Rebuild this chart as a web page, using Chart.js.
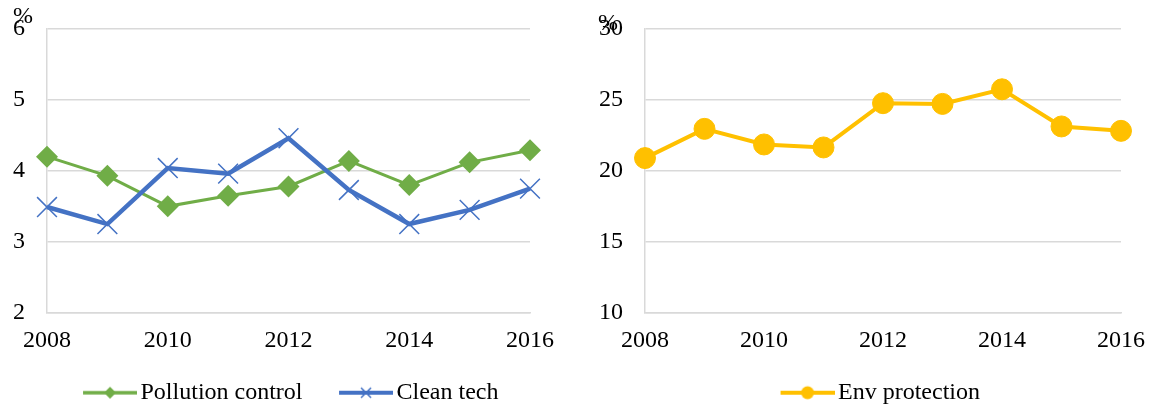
<!DOCTYPE html>
<html lang="en">
<head>
    <meta charset="UTF-8" />
    <title>Pollution control, clean tech and env protection</title>
    <style>
        body { margin: 0; background: #fff; overflow: hidden; }
        #wrap { position: relative; width: 1150px; height: 405px; overflow: hidden; }
        canvas { position: absolute; top: 0; }
    </style>
</head>
<body>
    <div id="wrap">
        <canvas id="leftChart" width="577" height="405" style="left: 0;"></canvas>
        <canvas id="rightChart" width="590" height="405" style="left: 583px;"></canvas>
    </div>

    <script src="https://cdn.jsdelivr.net/npm/chart.js@4.4.0/dist/chart.umd.min.js"></script>
    <script>
        // data
        const years = ['2008', '2009', '2010', '2011', '2012', '2013', '2014', '2015', '2016'];
        const xTickLabels = ['2008', '2010', '2012', '2014', '2016'];
        const pollutionControl = [4.20, 3.93, 3.50, 3.65, 3.78, 4.14, 3.80, 4.12, 4.29];
        const cleanTech = [3.49, 3.25, 4.04, 3.96, 4.46, 3.73, 3.25, 3.45, 3.75];
        const envProtection = [20.9, 22.96, 21.86, 21.65, 24.77, 24.72, 25.75, 23.13, 22.82];
        const leftTicks = [2, 3, 4, 5, 6];
        const rightTicks = [10, 15, 20, 25, 30];

        const GREEN = '#70ad47';
        const BLUE = '#4472c4';
        const YELLOW = '#ffc000';
        const GRID = '#d9d9d9';
        const FONT = '"Liberation Serif", "Times New Roman", serif';

        Chart.defaults.font.family = FONT;
        Chart.defaults.font.size = 24;
        Chart.defaults.color = '#000';

        // legend swatch: short line with a small marker, drawn at the right of the image
        function makeSwatch(color, marker, lineWidth) {
            const c = document.createElement('canvas');
            c.width = 67;
            c.height = 16;
            const ctx = c.getContext('2d');
            const x0 = 13, cx = 40;
            ctx.strokeStyle = color;
            ctx.fillStyle = color;
            ctx.lineWidth = lineWidth;
            ctx.beginPath();
            ctx.moveTo(x0, 8);
            ctx.lineTo(67, 8);
            ctx.stroke();
            ctx.beginPath();
            if (marker === 'diamond') {
                ctx.moveTo(cx, 2); ctx.lineTo(cx + 6, 8); ctx.lineTo(cx, 14); ctx.lineTo(cx - 6, 8);
                ctx.closePath();
                ctx.fill();
            } else if (marker === 'cross') {
                ctx.lineWidth = 1.5;
                ctx.moveTo(cx - 5, 3); ctx.lineTo(cx + 5, 13);
                ctx.moveTo(cx + 5, 3); ctx.lineTo(cx - 5, 13);
                ctx.stroke();
            } else {
                ctx.arc(cx, 8, 6.5, 0, Math.PI * 2);
                ctx.fill();
            }
            return c;
        }

        // the "%" unit label above the value axis
        const percentLabel = {
            id: 'percentLabel',
            afterDraw(chart, args, opts) {
                const { ctx, chartArea } = chart;
                ctx.save();
                ctx.font = '24px ' + FONT;
                ctx.fillStyle = '#000';
                ctx.textAlign = 'left';
                ctx.textBaseline = 'middle';
                ctx.fillText('%', chartArea.left - opts.dx, opts.y);
                ctx.restore();
            }
        };

        function legendOptions(swatches) {
            return {
                position: 'bottom',
                labels: {
                    usePointStyle: true,
                    pointStyleWidth: 50,
                    padding: 32,
                    color: '#000',
                    font: { size: 24 },
                    generateLabels(chart) {
                        const items = Chart.defaults.plugins.legend.labels.generateLabels(chart);
                        items.sort((a, b) => a.datasetIndex - b.datasetIndex);
                        items.forEach(it => { it.pointStyle = swatches[it.datasetIndex]; });
                        return items;
                    }
                }
            };
        }

        function xScale() {
            return {
                grid: { color: 'rgba(0,0,0,0)', drawTicks: false },
                border: { color: GRID, width: 1.5 },
                ticks: {
                    autoSkip: false,
                    maxRotation: 0,
                    padding: 14,
                    callback: function (v) {
                        const l = this.getLabelForValue(v);
                        return xTickLabels.includes(l) ? l : '';
                    }
                },
                afterFit(s) { s.height = 36; }
            };
        }

        function yScale(ticks, width) {
            return {
                min: ticks[0],
                max: ticks[ticks.length - 1],
                grid: { color: GRID, lineWidth: 1.5, drawTicks: false },
                border: { color: GRID, width: 1.5 },
                ticks: { stepSize: ticks[1] - ticks[0], padding: 22 },
                afterFit(s) {
                    s.width = width;
                    s.paddingTop = 0;
                    s.paddingBottom = 0;
                }
            };
        }

        // empty axis on the right, only to hold the plot's right edge in place
        function dummyRight(width) {
            return {
                position: 'right',
                grid: { display: false },
                border: { display: false },
                ticks: { display: false },
                afterFit(s) { s.width = width; }
            };
        }

        // Left chart
        new Chart(document.getElementById('leftChart'), {
            type: 'line',
            data: {
                labels: years,
                datasets: [{
                    label: 'Pollution control',
                    data: pollutionControl,
                    borderColor: GREEN,
                    backgroundColor: GREEN,
                    borderWidth: 3,
                    pointStyle: 'rectRot',
                    pointRadius: 11,
                    pointBorderWidth: 0,
                    order: 1,
                    clip: false
                }, {
                    label: 'Clean tech',
                    data: cleanTech,
                    borderColor: BLUE,
                    backgroundColor: BLUE,
                    borderWidth: 4.5,
                    pointStyle: 'crossRot',
                    pointRadius: 14,
                    pointBorderWidth: 1.5,
                    order: 0,
                    clip: false
                }]
            },
            options: {
                responsive: false,
                animation: false,
                layout: { padding: { top: 29, bottom: -9.7 } },
                scales: {
                    x: xScale(),
                    y: yScale(leftTicks, 47),
                    yPad: dummyRight(47)
                },
                plugins: {
                    legend: legendOptions([makeSwatch(GREEN, 'diamond', 3.5), makeSwatch(BLUE, 'cross', 4)]),
                    tooltip: { enabled: false },
                    percentLabel: { dx: 34, y: 17 }
                }
            },
            plugins: [percentLabel]
        });

        // Right chart
        new Chart(document.getElementById('rightChart'), {
            type: 'line',
            data: {
                labels: years,
                datasets: [{
                    label: 'Env protection',
                    data: envProtection,
                    borderColor: YELLOW,
                    backgroundColor: YELLOW,
                    borderWidth: 4,
                    pointStyle: 'circle',
                    pointRadius: 10.5,
                    pointBorderWidth: 1,
                    clip: false
                }]
            },
            options: {
                responsive: false,
                animation: false,
                layout: { padding: { top: 29, bottom: -9.7 } },
                scales: {
                    x: xScale(),
                    y: yScale(rightTicks, 62),
                    yPad: dummyRight(52)
                },
                plugins: {
                    legend: legendOptions([makeSwatch(YELLOW, 'circle', 4)]),
                    tooltip: { enabled: false },
                    percentLabel: { dx: 47, y: 24 }
                }
            },
            plugins: [percentLabel]
        });
    </script>
</body>
</html>
